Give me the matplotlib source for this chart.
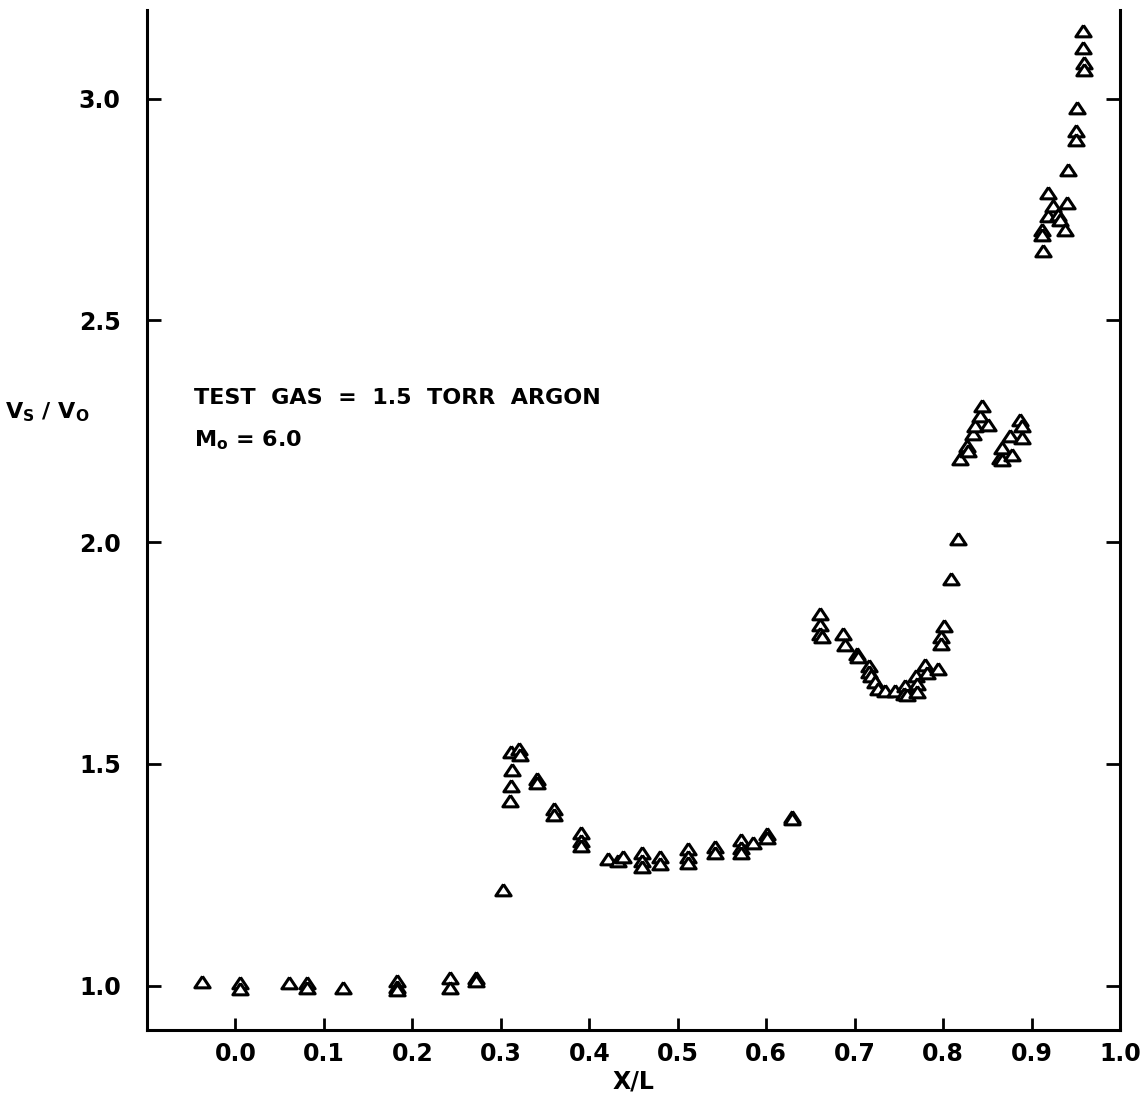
import matplotlib.pyplot as plt

# X/L positions and Vs/V0 values
x_l = [-0.038, 0.005, 0.005, 0.060, 0.081, 0.081, 0.122,
       0.183, 0.183, 0.183, 0.242, 0.242, 0.272, 0.272,
       0.302, 0.311, 0.321, 0.322, 0.313, 0.312, 0.310,
       0.341, 0.341, 0.360, 0.360, 0.391, 0.391, 0.391,
       0.421, 0.432, 0.438, 0.460, 0.460, 0.460, 0.480, 0.480,
       0.511, 0.511, 0.511, 0.542, 0.542, 0.571, 0.571, 0.571,
       0.585, 0.601, 0.601, 0.629, 0.629,
       0.661, 0.661, 0.661, 0.663, 0.687, 0.689, 0.703, 0.704,
       0.716, 0.716, 0.718, 0.723, 0.726, 0.734, 0.746,
       0.757, 0.756, 0.759, 0.769, 0.770, 0.770, 0.780, 0.782,
       0.794, 0.801, 0.798, 0.798, 0.809, 0.817,
       0.819, 0.827, 0.828, 0.834, 0.836, 0.842, 0.844, 0.851,
       0.864, 0.866, 0.867, 0.876, 0.878, 0.887, 0.889, 0.889,
       0.913, 0.912, 0.912, 0.919, 0.919, 0.924, 0.930, 0.932,
       0.938, 0.940, 0.941, 0.951, 0.950, 0.950,
       0.958, 0.958, 0.959, 0.959]
vs_v0 = [1.008, 1.006, 0.992, 1.005, 1.007, 0.994, 0.995,
         1.011, 0.998, 0.990, 1.017, 0.994, 1.018, 1.010,
         1.216, 1.527, 1.534, 1.520, 1.487, 1.450, 1.417,
         1.465, 1.456, 1.398, 1.384, 1.344, 1.326, 1.315,
         1.286, 1.281, 1.291, 1.298, 1.282, 1.268, 1.289, 1.275,
         1.309, 1.289, 1.276, 1.312, 1.299, 1.329, 1.311, 1.299,
         1.322, 1.341, 1.334, 1.381, 1.375,
         1.837, 1.814, 1.792, 1.785, 1.792, 1.769, 1.747, 1.740,
         1.720, 1.707, 1.698, 1.685, 1.669, 1.664, 1.664,
         1.676, 1.658, 1.655, 1.699, 1.681, 1.663, 1.722, 1.704,
         1.715, 1.812, 1.787, 1.771, 1.916, 2.008,
         2.188, 2.216, 2.205, 2.245, 2.261, 2.284, 2.306, 2.264,
         2.189, 2.212, 2.185, 2.239, 2.196, 2.275, 2.261, 2.234,
         2.657, 2.704, 2.692, 2.787, 2.735, 2.757, 2.738, 2.727,
         2.704, 2.764, 2.839, 2.979, 2.927, 2.907,
         3.152, 3.114, 3.080, 3.065]

x_ticks = [0.0, 0.1, 0.2, 0.3, 0.4, 0.5, 0.6, 0.7, 0.8, 0.9, 1.0]
y_ticks = [1.0, 1.5, 2.0, 2.5, 3.0]

plt.rcParams['mathtext.default'] = 'regular'
plt.rcParams['font.weight'] = 'bold'
plt.rcParams['axes.labelweight'] = 'bold'

fig = plt.figure(figsize=(11.47, 10.97), dpi=100)
ax = fig.add_axes([0.1282, 0.0611, 0.8483, 0.9298])

# wide open triangle
tri = [(0, 0.8), (-1, -0.7), (1, -0.7), (0, 0.8)]
ax.plot(x_l, vs_v0, linestyle='none', marker=tri, markersize=11,
        markerfacecolor='white', markeredgecolor='black', markeredgewidth=2.2)

ax.set_xlim(-0.1, 1.0)
ax.set_ylim(0.9, 3.2)
ax.set_xticks(x_ticks)
ax.set_xticklabels([f'{v:.1f}' for v in x_ticks])
ax.set_yticks(y_ticks)
ax.set_yticklabels([f'{v:.1f}' for v in y_ticks])

ax.spines['top'].set_visible(False)
for s in ['left', 'right', 'bottom']:
    ax.spines[s].set_linewidth(2.2)

ax.tick_params(axis='y', direction='in', left=True, right=True,
               length=10, width=2, labelsize=17, pad=19)
ax.tick_params(axis='x', direction='in', length=9, width=2,
               labelsize=17, pad=9)

ax.set_xlabel('X/L', fontsize=17, labelpad=2)
ax.set_ylabel(r'V$_\mathbf{S}$ / V$_\mathbf{O}$', fontsize=16, rotation=0,
              ha='left', va='center')
ax.yaxis.set_label_coords(-0.146, 0.606)

ax.text(-0.047, 2.324, 'TEST  GAS  =  1.5  TORR  ARGON', fontsize=16, va='center')
ax.text(-0.047, 2.23, r'M$_\mathbf{o}$ = 6.0', fontsize=16, va='center')

fig.savefig('out.png', dpi=100)
